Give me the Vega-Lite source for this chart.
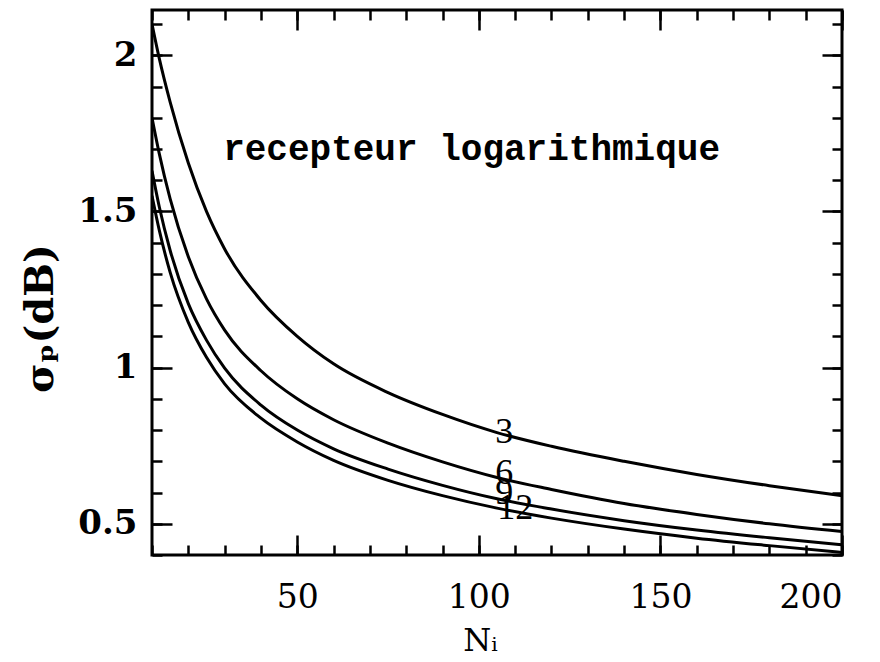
{
  "$schema": "https://vega.github.io/schema/vega-lite/v6.json",
  "width": 690,
  "height": 545,
  "autosize": {"type": "none"},
  "padding": {"left": 152, "top": 10, "right": 38, "bottom": 107},
  "background": "white",
  "config": {
    "view": {"stroke": "black", "strokeWidth": 3},
    "axis": {"domain": false, "grid": false, "tickColor": "black", "tickWidth": 2.5, "labelColor": "black", "titleColor": "black"}
  },
  "data": {
    "values": [
      {"N": 10, "sigma": 2.10, "curve": "3"},
      {"N": 12, "sigma": 1.99, "curve": "3"},
      {"N": 15, "sigma": 1.85, "curve": "3"},
      {"N": 20, "sigma": 1.655, "curve": "3"},
      {"N": 25, "sigma": 1.50, "curve": "3"},
      {"N": 30, "sigma": 1.38, "curve": "3"},
      {"N": 40, "sigma": 1.215, "curve": "3"},
      {"N": 50, "sigma": 1.10, "curve": "3"},
      {"N": 60, "sigma": 1.012, "curve": "3"},
      {"N": 75, "sigma": 0.92, "curve": "3"},
      {"N": 90, "sigma": 0.85, "curve": "3"},
      {"N": 105, "sigma": 0.792, "curve": "3"},
      {"N": 120, "sigma": 0.748, "curve": "3"},
      {"N": 140, "sigma": 0.70, "curve": "3"},
      {"N": 160, "sigma": 0.658, "curve": "3"},
      {"N": 180, "sigma": 0.622, "curve": "3"},
      {"N": 200, "sigma": 0.59, "curve": "3"},
      {"N": 10, "sigma": 1.80, "curve": "6"},
      {"N": 12, "sigma": 1.685, "curve": "6"},
      {"N": 15, "sigma": 1.54, "curve": "6"},
      {"N": 20, "sigma": 1.355, "curve": "6"},
      {"N": 25, "sigma": 1.22, "curve": "6"},
      {"N": 30, "sigma": 1.12, "curve": "6"},
      {"N": 40, "sigma": 0.99, "curve": "6"},
      {"N": 50, "sigma": 0.90, "curve": "6"},
      {"N": 60, "sigma": 0.833, "curve": "6"},
      {"N": 75, "sigma": 0.758, "curve": "6"},
      {"N": 90, "sigma": 0.698, "curve": "6"},
      {"N": 105, "sigma": 0.648, "curve": "6"},
      {"N": 120, "sigma": 0.61, "curve": "6"},
      {"N": 140, "sigma": 0.565, "curve": "6"},
      {"N": 160, "sigma": 0.53, "curve": "6"},
      {"N": 180, "sigma": 0.50, "curve": "6"},
      {"N": 200, "sigma": 0.475, "curve": "6"},
      {"N": 10, "sigma": 1.63, "curve": "9"},
      {"N": 12, "sigma": 1.515, "curve": "9"},
      {"N": 15, "sigma": 1.375, "curve": "9"},
      {"N": 20, "sigma": 1.205, "curve": "9"},
      {"N": 25, "sigma": 1.088, "curve": "9"},
      {"N": 30, "sigma": 0.998, "curve": "9"},
      {"N": 40, "sigma": 0.88, "curve": "9"},
      {"N": 50, "sigma": 0.80, "curve": "9"},
      {"N": 60, "sigma": 0.74, "curve": "9"},
      {"N": 75, "sigma": 0.675, "curve": "9"},
      {"N": 90, "sigma": 0.623, "curve": "9"},
      {"N": 105, "sigma": 0.58, "curve": "9"},
      {"N": 120, "sigma": 0.547, "curve": "9"},
      {"N": 140, "sigma": 0.51, "curve": "9"},
      {"N": 160, "sigma": 0.48, "curve": "9"},
      {"N": 180, "sigma": 0.455, "curve": "9"},
      {"N": 200, "sigma": 0.433, "curve": "9"},
      {"N": 10, "sigma": 1.55, "curve": "12"},
      {"N": 12, "sigma": 1.44, "curve": "12"},
      {"N": 15, "sigma": 1.305, "curve": "12"},
      {"N": 20, "sigma": 1.145, "curve": "12"},
      {"N": 25, "sigma": 1.033, "curve": "12"},
      {"N": 30, "sigma": 0.948, "curve": "12"},
      {"N": 40, "sigma": 0.838, "curve": "12"},
      {"N": 50, "sigma": 0.762, "curve": "12"},
      {"N": 60, "sigma": 0.703, "curve": "12"},
      {"N": 75, "sigma": 0.639, "curve": "12"},
      {"N": 90, "sigma": 0.59, "curve": "12"},
      {"N": 105, "sigma": 0.55, "curve": "12"},
      {"N": 120, "sigma": 0.518, "curve": "12"},
      {"N": 140, "sigma": 0.483, "curve": "12"},
      {"N": 160, "sigma": 0.454, "curve": "12"},
      {"N": 180, "sigma": 0.43, "curve": "12"},
      {"N": 200, "sigma": 0.408, "curve": "12"}
    ]
  },
  "resolve": {"axis": {"x": "independent", "y": "independent"}},
  "layer": [
    {
      "mark": {"type": "line", "color": "black", "strokeWidth": 3, "clip": true, "interpolate": "monotone"},
      "encoding": {
        "x": {"field": "N", "type": "quantitative", "scale": {"domain": [10, 200], "nice": false, "zero": false},
          "axis": {"orient": "bottom", "values": [50, 100, 150, 200], "tickSize": -20, "labelPadding": 46, "labelFont": "DejaVu Serif", "labelFontSize": 33, "labelFontWeight": "normal",
            "title": "Nᵢ", "titleFont": "DejaVu Serif", "titleFontSize": 32, "titleFontWeight": "normal", "titleX": 328, "titleY": 95, "titleBaseline": "alphabetic"}},
        "y": {"field": "sigma", "type": "quantitative", "scale": {"domain": [0.4, 2.145], "nice": false, "zero": false},
          "axis": {"orient": "left", "values": [0.5, 1, 1.5, 2], "format": "~g", "tickSize": -20, "labelPadding": 35, "labelFont": "DejaVu Serif", "labelFontSize": 34, "labelFontWeight": "bold",
            "title": "σₚ(dB)", "titleFont": "DejaVu Serif", "titleFontSize": 40, "titleFontWeight": "bold", "titleX": -112, "titleY": 308, "titleAngle": -90, "titleBaseline": "middle", "titleAlign": "center"}},
        "detail": {"field": "curve", "type": "nominal"}
      }
    },
    {
      "data": {"values": [
        {"N": 107, "sigma": 0.794, "label": "3"},
        {"N": 107, "sigma": 0.663, "label": "6"}
      ]},
      "mark": {"type": "text", "font": "Liberation Serif", "fontSize": 36, "color": "black", "baseline": "middle", "align": "center"},
      "encoding": {
        "x": {"field": "N", "type": "quantitative", "axis": {"orient": "bottom", "values": [10,20,30,40,50,60,70,80,90,100,110,120,130,140,150,160,170,180,190,200], "tickSize": -10, "labels": false, "title": null}},
        "y": {"field": "sigma", "type": "quantitative", "axis": {"orient": "left", "values": [0.4,0.5,0.6,0.7,0.8,0.9,1.0,1.1,1.2,1.3,1.4,1.5,1.6,1.7,1.8,1.9,2.0,2.1], "tickSize": -10, "labels": false, "title": null}},
        "text": {"field": "label"}
      }
    },
    {
      "data": {"values": [
        {"N": 98, "sigma": 1.70, "label": "recepteur logarithmique"}
      ]},
      "mark": {"type": "text", "font": "Liberation Mono", "fontSize": 36, "fontWeight": "bold", "color": "black", "baseline": "middle", "align": "center"},
      "encoding": {
        "x": {"field": "N", "type": "quantitative", "axis": {"orient": "top", "values": [50, 100, 150, 200], "tickSize": -20, "labels": false, "title": null}},
        "y": {"field": "sigma", "type": "quantitative", "axis": {"orient": "right", "values": [0.5, 1, 1.5, 2], "tickSize": -20, "labels": false, "title": null}},
        "text": {"field": "label"}
      }
    },
    {
      "data": {"values": [
        {"N": 107, "sigma": 0.60, "label": "9"},
        {"N": 110, "sigma": 0.551, "label": "12"}
      ]},
      "mark": {"type": "text", "font": "Liberation Serif", "fontSize": 36, "color": "black", "baseline": "middle", "align": "center"},
      "encoding": {
        "x": {"field": "N", "type": "quantitative", "axis": {"orient": "top", "values": [10,20,30,40,50,60,70,80,90,100,110,120,130,140,150,160,170,180,190,200], "tickSize": -10, "labels": false, "title": null}},
        "y": {"field": "sigma", "type": "quantitative", "axis": {"orient": "right", "values": [0.4,0.5,0.6,0.7,0.8,0.9,1.0,1.1,1.2,1.3,1.4,1.5,1.6,1.7,1.8,1.9,2.0,2.1], "tickSize": -10, "labels": false, "title": null}},
        "text": {"field": "label"}
      }
    }
  ]
}
